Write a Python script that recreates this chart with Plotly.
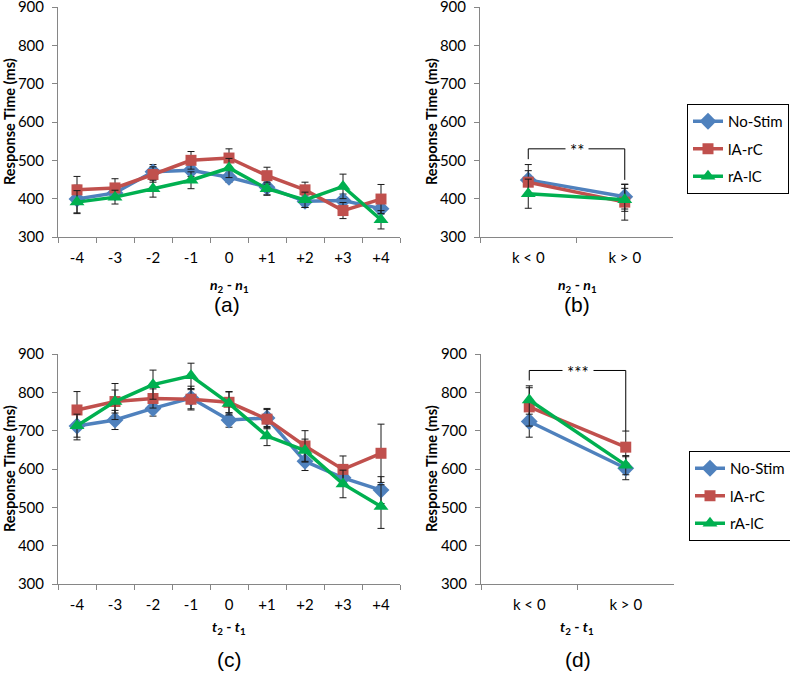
import plotly.graph_objects as go

# ---------------- data ----------------
cats_diff = ["-4", "-3", "-2", "-1", "0", "+1", "+2", "+3", "+4"]
cats_k = ["k < 0", "k > 0"]
series_names = ["No-Stim", "lA-rC", "rA-lC"]

# (a) n2 - n1
a_nostim = [399, 415, 470, 474, 456, 430, 393, 395, 374]
a_nostim_err = [36, 15, 19, 16, 13, 20, 16, 17, 14]
a_larc = [423, 428, 463, 500, 506, 460, 423, 369, 399]
a_larc_err = [35, 24, 20, 23, 24, 22, 20, 21, 38]
a_ralc = [391, 404, 426, 448, 480, 426, 397, 432, 345]
a_ralc_err = [30, 18, 22, 22, 25, 17, 20, 32, 24]

# (b) n2 - n1 grouped
b_nostim = [449, 405]
b_nostim_err = [40, 32]
b_larc = [443, 391]
b_larc_err = [30, 47]
b_ralc = [413, 397]
b_ralc_err = [38, 30]

# (c) t2 - t1
c_nostim = [712, 728, 758, 785, 728, 733, 620, 577, 545]
c_nostim_err = [36, 25, 20, 31, 19, 25, 24, 20, 35]
c_larc = [754, 776, 784, 782, 774, 730, 660, 599, 641]
c_larc_err = [48, 30, 25, 25, 28, 25, 40, 35, 76]
c_ralc = [713, 776, 820, 843, 771, 686, 648, 561, 502]
c_ralc_err = [30, 47, 38, 33, 30, 25, 30, 36, 57]

# (d) t2 - t1 grouped
d_nostim = [724, 602]
d_nostim_err = [41, 30]
d_larc = [762, 657]
d_larc_err = [50, 42]
d_ralc = [780, 610]
d_ralc_err = [37, 25]

sig_b = "**"
sig_d = "***"

# ---------------- styles ----------------
COLORS = ["#4F81BD", "#C0504D", "#00B050"]
SYMBOLS = ["diamond", "square", "triangle-up"]
MSIZE = [13, 11, 13]
AXIS_COLOR = "#868686"
FONT = "Lato"
W, H = 790, 673

fig = go.Figure()

panels = [
    ("x", "y", cats_diff, [(a_nostim, a_nostim_err), (a_larc, a_larc_err), (a_ralc, a_ralc_err)], None),
    ("x2", "y2", cats_k, [(b_nostim, b_nostim_err), (b_larc, b_larc_err), (b_ralc, b_ralc_err)], "legend"),
    ("x3", "y3", cats_diff, [(c_nostim, c_nostim_err), (c_larc, c_larc_err), (c_ralc, c_ralc_err)], None),
    ("x4", "y4", cats_k, [(d_nostim, d_nostim_err), (d_larc, d_larc_err), (d_ralc, d_ralc_err)], "legend2"),
]

for xa, ya, cats, data, leg in panels:
    for i, (vals, errs) in enumerate(data):
        fig.add_trace(go.Scatter(
            x=cats, y=vals, xaxis=xa, yaxis=ya,
            mode="lines+markers",
            name=series_names[i],
            line=dict(color=COLORS[i], width=3.5),
            marker=dict(symbol=SYMBOLS[i], size=MSIZE[i], color=COLORS[i]),
            error_y=dict(type="data", array=errs, visible=True,
                         color="#1a1a1a", thickness=1, width=3.5),
            showlegend=leg is not None,
            legend=leg if leg else "legend",
            legendgroup=(leg or "none") + str(i),
        ))

# ---------------- axes / layout ----------------
def ydom(top_px, bot_px):
    return [1 - bot_px / H, 1 - top_px / H]

domains = {
    "": ([58 / W, 400 / W], ydom(7, 237)),
    "2": ([480 / W, 673 / W], ydom(7, 237)),
    "3": ([58 / W, 400 / W], ydom(354, 584)),
    "4": ([481 / W, 674 / W], ydom(354, 584)),
}

layout = dict(
    width=W, height=H,
    margin=dict(l=0, r=0, t=0, b=0, autoexpand=False),
    paper_bgcolor="white", plot_bgcolor="white",
    font=dict(family=FONT, size=15, color="#000000"),
)

for k, (xd, yd) in domains.items():
    n = 9 if k in ("", "3") else 2
    layout["xaxis" + k] = dict(
        domain=xd, anchor="y" + k, type="category",
        range=[-0.5, n - 0.5], tickson="boundaries",
        showline=True, linecolor=AXIS_COLOR, linewidth=1,
        ticks="outside", ticklen=5, tickcolor=AXIS_COLOR,
        showgrid=False, zeroline=False, fixedrange=True,
        ticklabelstandoff=7,
        tickfont=dict(family=FONT, size=15, color="#000"),
    )
    layout["yaxis" + k] = dict(
        domain=yd, anchor="x" + k,
        range=[300, 900], dtick=100, tick0=300,
        showline=True, linecolor=AXIS_COLOR, linewidth=1,
        ticks="outside", ticklen=5, tickcolor=AXIS_COLOR,
        showgrid=False, zeroline=False, fixedrange=True,
        ticklabelstandoff=5, ticklabeloverflow="allow",
        tickfont=dict(family=FONT, size=15, color="#000"),
    )

legend_common = dict(
    bordercolor="#000000", borderwidth=1, bgcolor="white",
    font=dict(family=FONT, size=15, color="#000"),
    xanchor="left", yanchor="top", tracegroupgap=5,
    itemwidth=30,
)
layout["legend"] = dict(x=687 / W, y=1 - 104 / H, **legend_common)
layout["legend2"] = dict(x=689 / W, y=1 - 451 / H, **legend_common)

fig.update_layout(**layout)

# ---------------- titles & annotations ----------------
ytitle = "<b>Response Time (ms)</b>"
xt_n = "<b><i>n</i><sub>2</sub> - <i>n</i><sub>1</sub></b>"
xt_t = "<b><i>t</i><sub>2</sub> - <i>t</i><sub>1</sub></b>"

ann = []
# y axis titles
for xpx, ypx in [(9, 122), (431, 122), (9, 469), (431, 469)]:
    ann.append(dict(x=xpx / W, y=1 - ypx / H, xref="paper", yref="paper",
                    xanchor="center", yanchor="middle",
                    text=ytitle, textangle=-90, showarrow=False,
                    font=dict(family=FONT, size=14.5)))
# x axis titles
for xpx, ypx, t in [(229, 285, xt_n), (577, 285, xt_n), (229, 627, xt_t), (577, 627, xt_t)]:
    ann.append(dict(x=xpx / W, y=1 - ypx / H, xref="paper", yref="paper",
                    xanchor="center", yanchor="middle",
                    text=t, showarrow=False, font=dict(family=FONT, size=14)))
# panel labels
for xpx, ypx, t in [(227, 305, "(a)"), (577, 305, "(b)"), (229, 659, "(c)"), (578, 659, "(d)")]:
    ann.append(dict(x=xpx / W, y=1 - ypx / H, xref="paper", yref="paper",
                    xanchor="center", yanchor="middle",
                    text=t, showarrow=False,
                    font=dict(family="Liberation Sans", size=21)))

# significance brackets
brackets = [
    ("x2", "y2", 530, 503, 449, sig_b),
    ("x4", "y4", 857, 831, 699, sig_d),
]
shapes = []
for xa, ya, top, left_end, right_end, txt in brackets:
    shapes.append(dict(type="path", xref=xa, yref=ya,
                       path=f"M 0 {left_end} L 0 {top} L 1 {top} L 1 {right_end}",
                       line=dict(color="#000", width=1)))
    ann.append(dict(x=0.5, y=top, xref=xa, yref=ya, text=txt, showarrow=False,
                    xanchor="center", yanchor="middle",
                    bgcolor="white", font=dict(family=FONT, size=17),
                    borderpad=4, yshift=-2))

fig.update_layout(annotations=ann, shapes=shapes)
fig.write_html(
    "out.html",
    config={"displayModeBar": False},
    post_script="document.body.style.margin='0';document.body.style.padding='0';",
)
